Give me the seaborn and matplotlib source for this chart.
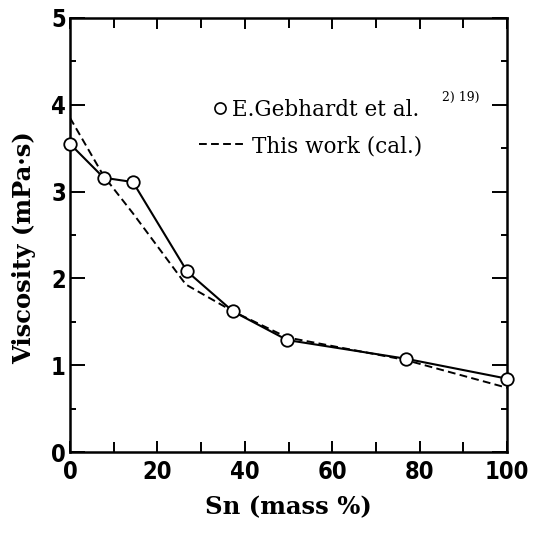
import matplotlib
matplotlib.use("Agg")
import matplotlib.pyplot as plt
from matplotlib.lines import Line2D
from matplotlib.ticker import MultipleLocator
import seaborn as sns
import pandas as pd

# Measured viscosity of the Sn alloy (Gebhardt et al.)
sn_exp = [0, 7.7, 14.4, 26.8, 37.3, 49.7, 76.8, 100]
visc_exp = [3.55, 3.16, 3.11, 2.08, 1.62, 1.29, 1.075, 0.845]

# Calculated viscosity (this work)
sn_cal = [0, 7.7, 14.4, 26.5, 37.3, 49.7, 76.8, 100]
visc_cal = [3.85, 3.18, 2.75, 1.93, 1.62, 1.32, 1.06, 0.74]

x_ticks = [0, 20, 40, 60, 80, 100]
y_ticks = [0, 1, 2, 3, 4, 5]

df_exp = pd.DataFrame({"Sn": sn_exp, "Viscosity": visc_exp})
df_cal = pd.DataFrame({"Sn": sn_cal, "Viscosity": visc_cal})

sns.set_style("ticks")
plt.rcParams["font.family"] = ["DejaVu Serif"]
plt.rcParams["text.color"] = "black"
plt.rcParams["axes.labelcolor"] = "black"
plt.rcParams["xtick.color"] = "black"
plt.rcParams["ytick.color"] = "black"

W, H = 545, 543
fig = plt.figure(figsize=(W / 100, H / 100), dpi=100)
ax = fig.add_axes([70 / W, 1 - 452 / H, (507 - 70) / W, (452 - 18) / H])

sns.lineplot(data=df_cal, x="Sn", y="Viscosity", ax=ax, color="black",
             linewidth=1.4, linestyle=(0, (4.0, 2.2)), zorder=2)
sns.lineplot(data=df_exp, x="Sn", y="Viscosity", ax=ax, color="black",
             linewidth=1.5, marker="o", markersize=9, markerfacecolor="white",
             markeredgecolor="black", markeredgewidth=1.3, zorder=3,
             clip_on=False)

ax.set_xlim(0, 100)
ax.set_ylim(0, 5)
ax.set_xticks(x_ticks)
ax.set_yticks(y_ticks)
ax.xaxis.set_minor_locator(MultipleLocator(10))
ax.yaxis.set_minor_locator(MultipleLocator(0.5))

tick_font = dict(family="DejaVu Sans", stretch="condensed", weight="bold",
                 size=17, color="black")
ax.set_xticklabels([str(t) for t in x_ticks], fontdict=tick_font)
ax.set_yticklabels([str(t) for t in y_ticks], fontdict=tick_font)

ax.tick_params(which="both", direction="in", top=True, right=True,
               color="black", labelcolor="black", width=1.4)
ax.tick_params(axis="y", which="major", length=11, pad=3)
ax.tick_params(axis="y", which="minor", length=4)
ax.tick_params(axis="x", which="major", length=8, pad=6)
ax.tick_params(axis="x", which="minor", length=7)

for sp in ax.spines.values():
    sp.set_linewidth(1.8)
    sp.set_color("black")

label_font = dict(family="DejaVu Serif", weight="bold", size=17.5, color="black")
ax.set_xlabel("Sn (mass %)", fontdict=label_font, labelpad=8)
ax.set_ylabel("Viscosity (mPa\u00b7s)", fontdict=label_font)
ax.yaxis.set_label_coords(-0.078, 0.472)

# Legend entries
fs = 15.5
h_exp = Line2D([], [], linestyle="none", marker="o", markersize=8,
               markerfacecolor="white", markeredgecolor="black",
               markeredgewidth=1.2)
h_cal = Line2D([], [], color="black", linewidth=1.4, linestyle=(0, (4.0, 2.2)))

fspx = fs * 100 / 72
leg1 = ax.legend([h_exp], ["E.Gebhardt et al."], loc="center left",
                 bbox_to_anchor=((220 - 0.35 * fspx) / W, 1 - 110 / H),
                 bbox_transform=fig.transFigure, frameon=False, borderpad=0,
                 borderaxespad=0, handlelength=0.7, handletextpad=0.2,
                 labelcolor="black",
                 prop=dict(family="DejaVu Serif", size=fs))
ax.add_artist(leg1)
ax.legend([h_cal], ["This work (cal.)"], loc="center left",
          bbox_to_anchor=(199 / W, 1 - 146 / H),
          bbox_transform=fig.transFigure, frameon=False, borderpad=0,
          borderaxespad=0, handlelength=48 / fspx, handletextpad=0.25,
          labelcolor="black",
          prop=dict(family="DejaVu Serif", size=fs))
fig.text(442 / W, 1 - 97 / H, "2) 19)", fontsize=9, family="DejaVu Serif",
         va="center", ha="left", color="black")

fig.savefig("out.png", dpi=100)
